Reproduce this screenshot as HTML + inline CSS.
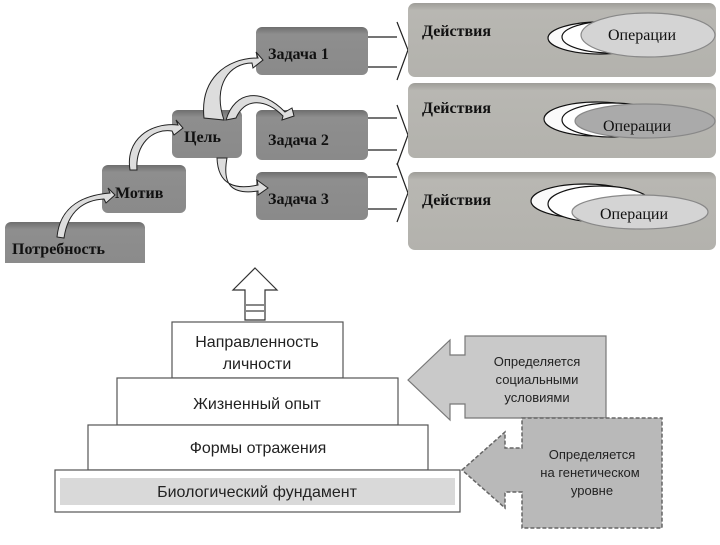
<!DOCTYPE html>
<html><head><meta charset="utf-8"><style>
body{margin:0;width:720px;height:540px;background:#fff;overflow:hidden}
</style></head><body>
<svg width="720" height="540" xmlns="http://www.w3.org/2000/svg" font-family="Liberation Serif, serif">
<defs>
<linearGradient id="bx" x1="0" y1="0" x2="0" y2="1"><stop offset="0" stop-color="#6e6e6e"/><stop offset="0.15" stop-color="#8e8e8e"/><stop offset="1" stop-color="#8a8a8a"/></linearGradient>
<linearGradient id="ac" x1="0" y1="0" x2="0" y2="1"><stop offset="0" stop-color="#9e9d98"/><stop offset="0.1" stop-color="#b8b7b2"/><stop offset="1" stop-color="#b3b2ad"/></linearGradient>
</defs>
<rect x="5" y="222" width="140" height="50" rx="6" fill="url(#bx)"/>
<rect x="102" y="165" width="84" height="48" rx="6" fill="url(#bx)"/>
<rect x="172" y="110" width="70" height="48" rx="6" fill="url(#bx)"/>
<rect x="256" y="27" width="112" height="48" rx="6" fill="url(#bx)"/>
<rect x="256" y="110" width="112" height="50" rx="6" fill="url(#bx)"/>
<rect x="256" y="172" width="112" height="48" rx="6" fill="url(#bx)"/>
<rect x="0" y="263" width="150" height="12" fill="#fff"/>
<g font-weight="bold" font-size="16" fill="#111">
<text x="12" y="254">Потребность</text>
<text x="115" y="198">Мотив</text>
<text x="184" y="142">Цель</text>
<text x="268" y="59">Задача 1</text>
<text x="268" y="145">Задача 2</text>
<text x="268" y="204">Задача 3</text>
</g>
<g fill="#ddd" stroke="#222" stroke-width="1">
<path d="M57 237 C60 205 85 195 110 193 L108 188 L115 195 L106 203 L104 199 C85 200 68 210 64 238 Z"/>
<path d="M130 170 C125 140 150 122 178 125 L176 120 L183 128 L174 135 L172 131 C152 128 135 145 137 170 Z"/>
<path d="M204 118 C200 80 225 58 258 58 L256 52 L263 60 L253 68 L252 63 C230 63 212 85 224 120 Z"/>
<path d="M226 120 C235 90 262 88 285 112 L292 108 L294 116 L282 120 L283 116 C265 98 245 98 236 118 Z"/>
<path d="M217 158 C218 185 235 190 258 185 L257 180 L268 188 L258 195 L258 191 C232 195 222 185 227 158 Z"/>
</g>
<g fill="none" stroke="#222" stroke-width="1.2">
<path d="M368 37 H397 M368 67 H397 M397 22 L408 50 L397 80"/>
<path d="M368 118 H397 M368 150 H397 M397 105 L408 135 L397 165"/>
<path d="M368 177 H397 M368 209 H397 M397 163 L408 193 L397 222"/>
</g>
<rect x="408" y="3" width="308" height="74" rx="7" fill="url(#ac)"/>
<rect x="408" y="83" width="308" height="75" rx="7" fill="url(#ac)"/>
<rect x="408" y="172" width="308" height="78" rx="7" fill="url(#ac)"/>
<g font-weight="bold" font-size="16" fill="#111">
<text x="422" y="36">Действия</text>
<text x="422" y="113">Действия</text>
<text x="422" y="205">Действия</text>
</g>
<g stroke="#111" stroke-width="1.2">
<ellipse cx="600" cy="38" rx="52" ry="16" fill="#fafafa"/>
<ellipse cx="612" cy="37" rx="50" ry="16" fill="#fff"/>
<ellipse cx="648" cy="35" rx="67" ry="22" fill="#d4d4d4" stroke="#888"/>
<ellipse cx="597" cy="119" rx="53" ry="17" fill="#fafafa"/>
<ellipse cx="612" cy="120" rx="50" ry="17" fill="#fff"/>
<ellipse cx="645" cy="121" rx="70" ry="17" fill="#aaa" stroke="#888"/>
<ellipse cx="585" cy="201" rx="54" ry="17" fill="#fafafa"/>
<ellipse cx="600" cy="204" rx="52" ry="18" fill="#fff"/>
<ellipse cx="640" cy="212" rx="68" ry="17" fill="#d4d4d4" stroke="#888"/>
</g>
<g font-size="16" fill="#111">
<text x="608" y="40">Операции</text>
<text x="603" y="131">Операции</text>
<text x="600" y="219">Операции</text>
</g>
<path d="M255 268 L277 290 L265 290 L265 320 L245 320 L245 290 L233 290 Z" fill="#fff" stroke="#333" stroke-width="1.2"/>
<line x1="246" y1="305" x2="264" y2="305" stroke="#888" stroke-width="2"/>
<line x1="246" y1="311" x2="264" y2="311" stroke="#888" stroke-width="2"/>
<g fill="#fff" stroke="#555" stroke-width="1.2">
<rect x="172" y="322" width="171" height="56"/>
<rect x="117" y="378" width="281" height="47"/>
<rect x="88" y="425" width="340" height="45"/>
<rect x="55" y="470" width="405" height="42"/>
</g>
<rect x="60" y="478" width="395" height="27" fill="#d9d9d9"/>
<path d="M408 380 L450 340 L450 355 L465 355 L465 336 L606 336 L606 418 L465 418 L465 404 L450 404 L450 420 Z" fill="#c9c9c9" stroke="#777" stroke-width="1.2"/>
<path d="M462 470 L505 432 L505 448 L522 448 L522 418 L662 418 L662 528 L522 528 L522 492 L505 492 L505 508 Z" fill="#b9b9b9" stroke="#666" stroke-width="1.5" stroke-dasharray="4 2"/>
<g font-family="Liberation Sans, sans-serif" fill="#222" text-anchor="middle">
<text x="257" y="347" font-size="16">Направленность</text>
<text x="257" y="369" font-size="16">личности</text>
<text x="257" y="409" font-size="16">Жизненный опыт</text>
<text x="258" y="453" font-size="16">Формы отражения</text>
<text x="257" y="497" font-size="16">Биологический фундамент</text>
<text x="537" y="366" font-size="13">Определяется</text>
<text x="537" y="384" font-size="13">социальными</text>
<text x="537" y="402" font-size="13">условиями</text>
<text x="592" y="459" font-size="13">Определяется</text>
<text x="590" y="477" font-size="13">на генетическом</text>
<text x="592" y="495" font-size="13">уровне</text>
</g>
</svg>
</body></html>
